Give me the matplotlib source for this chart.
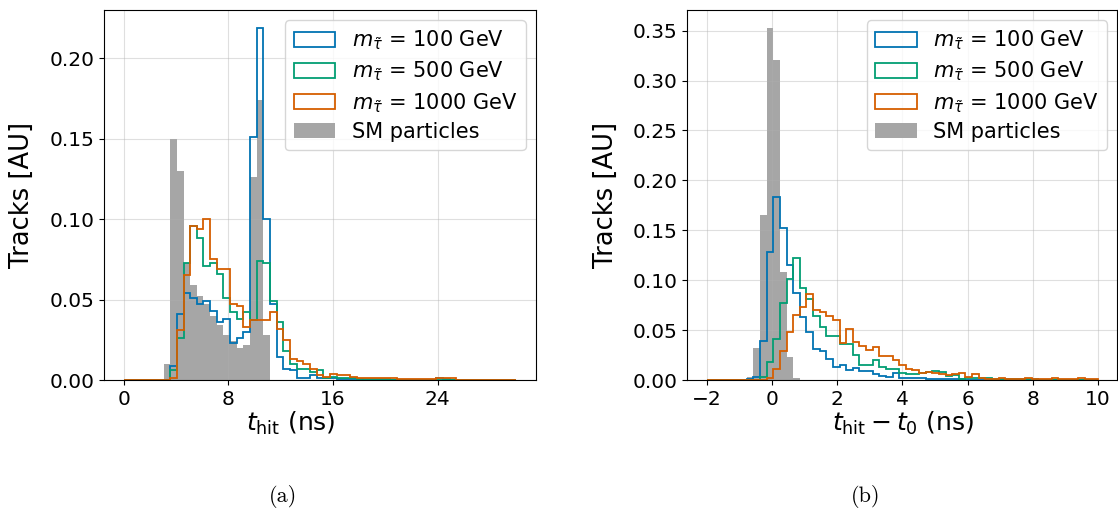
import numpy as np
import matplotlib
matplotlib.use("Agg")
import matplotlib.pyplot as plt

# bins used for both panels (59 bins each)
edges_a = np.linspace(0, 30, 60)
edges_b = np.linspace(-2, 10, 60)

labels = [r"$m_{\tilde{\tau}}$ = 100 GeV", r"$m_{\tilde{\tau}}$ = 500 GeV",
          r"$m_{\tilde{\tau}}$ = 1000 GeV", "SM particles"]
colors = ["#0173B2", "#029E73", "#D55E00"]


def pad(vals, start):
    out = np.zeros(59)
    out[start:start + len(vals)] = vals
    return out


# panel (a): t_hit, bin fractions
sm_a = pad([0.010, 0.150, 0.130, 0.073, 0.059, 0.052, 0.047, 0.040, 0.034,
            0.028, 0.024, 0.020, 0.022, 0.126, 0.174, 0.028], 6)
m100_a = pad([0.009, 0.041, 0.054, 0.051, 0.047, 0.049, 0.043, 0.036, 0.038,
              0.023, 0.026, 0.030, 0.151, 0.219, 0.100, 0.047, 0.014, 0.007,
              0.006, 0.001, 0.0015, 0.003, 0.001, 0.001, 0.001, 0.0008,
              0.0008, 0.0005, 0.0005, 0.0003, 0.0003, 0.0003, 0.0003, 0.0003,
              0.0003, 0.0003, 0.0003, 0.0003, 0.0003, 0.0003, 0.001, 0.0008], 7)
m500_a = pad([0.006, 0.026, 0.073, 0.096, 0.088, 0.071, 0.073, 0.066, 0.051,
              0.042, 0.038, 0.042, 0.037, 0.074, 0.073, 0.049, 0.036, 0.018,
              0.010, 0.007, 0.007, 0.005, 0.006, 0.0012, 0.0017, 0.001, 0.001,
              0.001, 0.0006, 0.0006, 0.0006, 0.0004, 0.0004, 0.0003], 7)
m1000_a = pad([0.001, 0.031, 0.065, 0.096, 0.094, 0.100, 0.075, 0.069, 0.069,
               0.047, 0.046, 0.033, 0.037, 0.037, 0.037, 0.042, 0.032, 0.025,
               0.013, 0.012, 0.010, 0.007, 0.003, 0.002, 0.004, 0.003, 0.003,
               0.002, 0.0015, 0.0015, 0.001, 0.001, 0.001, 0.001, 0.0005,
               0.0005, 0.0005, 0.0005, 0.0005, 0.0005, 0.001, 0.001, 0.0015], 7)

# panel (b): t_hit - t_0
sm_b = pad([0.003, 0.032, 0.165, 0.353, 0.321, 0.108, 0.023, 0.002], 6)
m100_b = pad([0.001, 0.003, 0.039, 0.128, 0.183, 0.152, 0.115, 0.087, 0.063,
              0.048, 0.031, 0.029, 0.021, 0.013, 0.015, 0.010, 0.012, 0.009,
              0.009, 0.006, 0.004, 0.003, 0.007, 0.002, 0.002, 0.002, 0.002,
              0.001, 0.001, 0.001, 0.0013, 0.0013, 0.001, 0.0005, 0.0005,
              0.0005, 0.0005, 0.0005, 0.0005, 0.0005, 0.0003, 0.0003, 0.0003,
              0.0003, 0.0003, 0.0003, 0.0003, 0.0003, 0.0003, 0.0003, 0.0003,
              0.0003, 0.0003], 6)
m500_b = pad([0.003, 0.018, 0.041, 0.077, 0.101, 0.122, 0.092, 0.081, 0.064,
              0.053, 0.044, 0.044, 0.036, 0.036, 0.025, 0.015, 0.015, 0.020,
              0.013, 0.011, 0.011, 0.007, 0.0057, 0.0057, 0.007, 0.0077,
              0.0087, 0.008, 0.0037, 0.005, 0.001, 0.002, 0.002, 0.002, 0.002,
              0.001, 0.001, 0.001, 0.001, 0.001, 0.001, 0.001, 0.0005, 0.0005,
              0.0005, 0.0005, 0.0005, 0.0005, 0.0005, 0.0005, 0.0005], 8)
m1000_b = pad([0.002, 0.011, 0.029, 0.048, 0.065, 0.073, 0.086, 0.070, 0.068,
               0.064, 0.060, 0.037, 0.051, 0.038, 0.034, 0.030, 0.033, 0.024,
               0.024, 0.020, 0.015, 0.011, 0.0097, 0.007, 0.0083, 0.007,
               0.006, 0.005, 0.0057, 0.007, 0.003, 0.0057, 0.0017, 0.0015,
               0.001, 0.002, 0.0015, 0.001, 0.0015, 0.002, 0.001, 0.0015,
               0.001, 0.002, 0.0015, 0.001, 0.0015, 0.002, 0.0015, 0.001], 9)


def draw(ax, edges, sm, sigs, xlabel):
    centers = 0.5 * (edges[:-1] + edges[1:])
    h_sm = ax.hist(centers, bins=edges, weights=sm, histtype="stepfilled",
                   color="#a6a6a6", zorder=0.3)[2][0]
    handles = []
    for vals, c in zip(sigs, colors):
        p = ax.hist(centers, bins=edges, weights=vals, histtype="step",
                    color=c, linewidth=1.3, zorder=2.2)[2][0]
        handles.append(p)
    handles.append(h_sm)
    ax.legend(handles, labels, loc="upper right", fontsize=15,
              labelspacing=0.36)
    ax.set_xlabel(xlabel, fontsize=18, labelpad=1)
    ax.set_ylabel("Tracks [AU]", fontsize=18.5, labelpad=10)
    ax.tick_params(labelsize=14.5)
    ax.grid(True, alpha=0.4)
    ax.set_axisbelow(True)


fig = plt.figure(figsize=(11.18, 5.19), dpi=100)
ax1 = fig.add_axes([0.0930, 0.2678, 0.3864, 0.7129])
ax2 = fig.add_axes([0.6149, 0.2678, 0.3846, 0.7129])

draw(ax1, edges_a, sm_a, [m100_a, m500_a, m1000_a], r"$t_\mathrm{hit}$ (ns)")
ax1.set_xticks([0, 8, 16, 24])
ax1.set_yticks([0.0, 0.05, 0.10, 0.15, 0.20])
ax1.xaxis.label.set_x(0.433)

draw(ax2, edges_b, sm_b, [m100_b, m500_b, m1000_b],
     r"$t_\mathrm{hit} - t_0$ (ns)")

fig.text(0.2531, 0.032, "(a)", family="cmr10", fontsize=16, ha="center")
fig.text(0.7746, 0.032, "(b)", family="cmr10", fontsize=16, ha="center")

fig.savefig("out.png", dpi=100)
